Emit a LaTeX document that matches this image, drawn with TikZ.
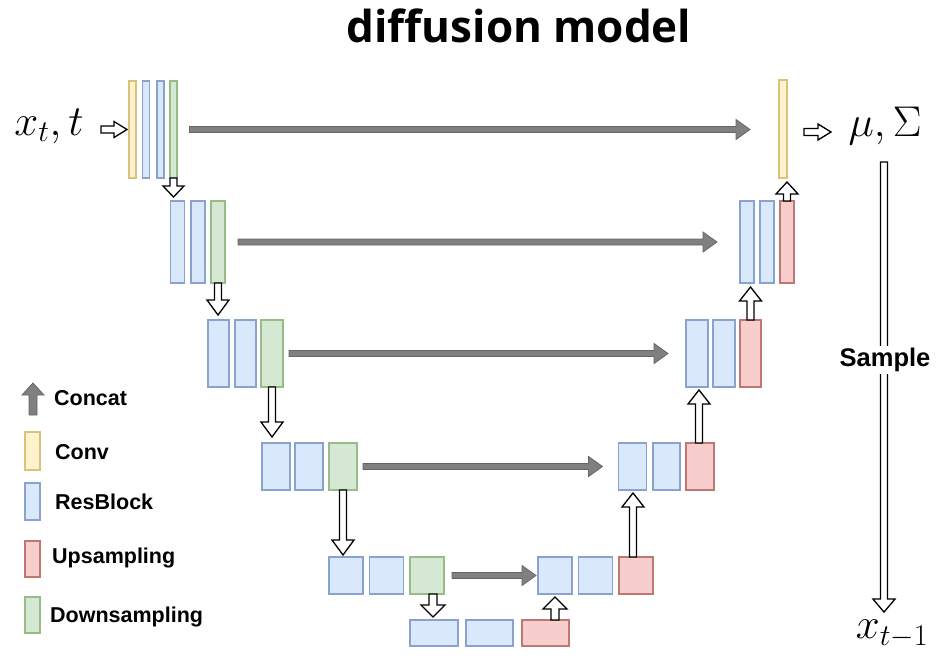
\documentclass[tikz,border=0pt]{standalone}
\usepackage{fix-cm}
\usepackage{fontspec}
\newfontfamily\titlefont{Open Sans}
\newfontfamily\labelfont{Liberation Sans}
\usetikzlibrary{calc}

\definecolor{convF}{HTML}{FFF2CC}\definecolor{convD}{HTML}{D9C27A}
\definecolor{resF}{HTML}{DAE8FC}\definecolor{resD}{HTML}{8AA3CC}
\definecolor{upF}{HTML}{F8CECC}\definecolor{upD}{HTML}{BE7773}
\definecolor{dnF}{HTML}{D5E8D4}\definecolor{dnD}{HTML}{98BC86}
\definecolor{concatF}{HTML}{808080}\definecolor{concatD}{HTML}{666666}

\tikzset{
  blk/.style={draw=#1D, fill=#1F, line width=1.2pt, inner sep=0pt, outer sep=0pt},
  hollow/.style={draw=black, fill=white, line width=1.3pt, line join=miter},
  concat/.style={draw=concatD, fill=concatF, line width=0.8pt, line join=miter},
  legendtxt/.style={font=\labelfont\bfseries\fontsize{21.5}{25}\selectfont, anchor=west, inner sep=0pt},
  mathtxt/.style={font=\fontsize{43}{50}\selectfont, inner sep=0pt},
}

% block: kind, name, centre x, centre y, width, height
\newcommand\blk[6]{\node[blk=#1, minimum width=#5pt, minimum height=#6pt] (#2) at (#3,#4) {};}

% block arrow: style, from, tip, half shaft width, head length, half head width
\newcommand\fatarrow[6]{%
  \coordinate (fa-h) at ($(#3)!#5!(#2)$);
  \draw[#1] ($(#2)!#4!90:(#3)$) -- ($(fa-h)!#4!90:(#3)$) -- ($(fa-h)!#6!90:(#3)$)
    -- (#3) -- ($(fa-h)!#6!-90:(#3)$) -- ($(fa-h)!#4!-90:(#3)$)
    -- ($(#2)!#4!-90:(#3)$) -- cycle;}

\begin{document}
\begin{tikzpicture}[x=1pt,y=-1pt]
\useasboundingbox (0,0) rectangle (937,657);

% title
\node[font=\titlefont\bfseries\fontsize{44}{52}\selectfont] (title) at (519,26) {diffusion model};

% ---- encoder ----
\blk{conv}{c0}{132.5}{129.5}{7}{97}
\blk{res}{e0a}{146}{129.5}{7}{97}
\blk{res}{e0b}{160.5}{129.5}{7}{97}
\blk{dn}{g0}{173.5}{129.5}{7}{97}

\blk{res}{e1a}{177.5}{242}{14}{82}
\blk{res}{e1b}{198}{242}{14}{82}
\blk{dn}{g1}{218}{242}{14}{82}

\blk{res}{e2a}{218.5}{353.5}{21}{67}
\blk{res}{e2b}{245.5}{353.5}{21}{67}
\blk{dn}{g2}{272}{353.5}{22}{67}

\blk{res}{e3a}{276}{466.5}{28}{47}
\blk{res}{e3b}{309}{466.5}{28}{47}
\blk{dn}{g3}{343}{466.5}{28}{47}

\blk{res}{e4a}{346}{575.5}{34}{37}
\blk{res}{e4b}{386.5}{575.5}{34}{37}
\blk{dn}{g4}{427}{575.5}{34}{37}

% ---- bottleneck ----
\blk{res}{m0}{434}{633}{48}{26}
\blk{res}{m1}{489.5}{633}{47}{26}
\blk{up}{m2}{545.5}{633}{47}{26}

% ---- decoder ----
\blk{res}{d4a}{555}{575.5}{34}{37}
\blk{res}{d4b}{595.5}{575.5}{34}{37}
\blk{up}{u4}{636}{575.5}{34}{37}

\blk{res}{d3a}{632.5}{466.5}{28}{47}
\blk{res}{d3b}{666.5}{466.5}{27}{47}
\blk{up}{u3}{700}{466.5}{28}{47}

\blk{res}{d2a}{697}{353.5}{22}{67}
\blk{res}{d2b}{724}{353.5}{22}{67}
\blk{up}{u2}{750.5}{353.5}{21}{67}

\blk{res}{d1a}{747}{242}{14}{82}
\blk{res}{d1b}{767}{242}{14}{82}
\blk{up}{u1}{787}{242}{14}{82}

\blk{conv}{c1}{783}{129}{8}{98}

% ---- input / output text ----
\node[mathtxt] (xin) at (49,126) {$x_t,t$};
\node[mathtxt] (muout) at (885,126) {$\mu,\Sigma$};
\node[mathtxt] (xout) at (892,634) {$x_{t-1}$};

% ---- skip connections (concat) ----
\fatarrow{concat}{[xshift=12.5pt]g0.east}{[xshift=-29pt]c1.west |- g0.east}{3pt}{14pt}{10pt}
\fatarrow{concat}{[xshift=13pt]g1.east}{[xshift=-23pt]d1a.west}{3pt}{14pt}{10pt}
\fatarrow{concat}{[xshift=6pt]g2.east}{[xshift=-18pt]d2a.west}{3pt}{14pt}{10pt}
\fatarrow{concat}{[xshift=6pt]g3.east}{[xshift=-16pt]d3a.west}{3pt}{14pt}{10pt}
\fatarrow{concat}{[xshift=8pt]g4.east}{[xshift=-2pt]d4a.west}{3pt}{14pt}{10pt}

% ---- data flow arrows ----
\coordinate (ia) at ([xshift=-28pt]c0.west);
\coordinate (ib) at ([xshift=-2pt]c0.west);
\fatarrow{hollow}{ia}{ib}{3.5pt}{13pt}{8pt}
\coordinate (oa) at ([xshift=17pt,yshift=-3pt]c1.east);
\coordinate (ob) at ([xshift=44pt,yshift=-3pt]c1.east);
\fatarrow{hollow}{oa}{ob}{3.5pt}{13pt}{8pt}

\coordinate (s0) at (g0.south);
\coordinate (t0) at ([yshift=4pt]g0.south |- e1a.north);
\fatarrow{hollow}{s0}{t0}{3.5pt}{11pt}{10.5pt}
\coordinate (s1) at (g1.south);
\coordinate (t1) at ([yshift=5pt]g1.south |- e2a.north);
\fatarrow{hollow}{s1}{t1}{3.5pt}{15pt}{11pt}
\coordinate (s2) at (g2.south);
\coordinate (t2) at ([yshift=6pt]g2.south |- e3a.north);
\fatarrow{hollow}{s2}{t2}{3.5pt}{15pt}{11pt}
\coordinate (s3) at (g3.south);
\coordinate (t3) at ([yshift=2pt]g3.south |- e4a.north);
\fatarrow{hollow}{s3}{t3}{3.5pt}{15pt}{11pt}
\coordinate (s4) at ([xshift=6pt]g4.south);
\coordinate (t4) at ([yshift=3pt]s4 |- m0.north);
\fatarrow{hollow}{s4}{t4}{4pt}{12pt}{12pt}

\coordinate (s5) at (d4a.south |- m2.north);
\coordinate (t5) at ([yshift=-3pt]d4a.south);
\fatarrow{hollow}{s5}{t5}{4pt}{12pt}{12pt}
\coordinate (s6) at ([xshift=-3pt]u4.north);
\coordinate (t6) at ([yshift=-3pt]s6 |- d3a.south);
\fatarrow{hollow}{s6}{t6}{3.5pt}{14pt}{11pt}
\coordinate (s7) at ([xshift=-1pt]u3.north);
\coordinate (t7) at ([yshift=-3pt]s7 |- d2a.south);
\fatarrow{hollow}{s7}{t7}{3.5pt}{14pt}{11pt}
\coordinate (s8) at (u2.north);
\coordinate (t8) at ([yshift=-4pt]s8 |- u1.south);
\fatarrow{hollow}{s8}{t8}{3.5pt}{14pt}{11pt}
\coordinate (s9) at (u1.north);
\coordinate (t9) at ([yshift=-4pt]s9 |- c1.south);
\fatarrow{hollow}{s9}{t9}{3.5pt}{12pt}{11pt}

% ---- sampling step ----
\coordinate (sa) at (884,162);
\coordinate (sb) at ([yshift=8pt]xout.north -| 884,0);
\fatarrow{hollow}{sa}{sb}{3.5pt}{13pt}{11pt}
\node[fill=white, inner sep=2pt, font=\labelfont\bfseries\fontsize{25.5}{30}\selectfont] (sample) at (885,360) {Sample};

% ---- legend ----
\coordinate (la) at (33,415);
\coordinate (lb) at (33,383);
\fatarrow{concat}{la}{lb}{4pt}{12pt}{11pt}
\node[legendtxt] (lconcat) at (54,398) {Concat};
\node[blk=conv, minimum width=15pt, minimum height=38pt] (lconv) at (32.5,451) {};
\node[legendtxt] (tconv) at (55,452) {Conv};
\node[blk=res, minimum width=15pt, minimum height=37pt] (lres) at (32.5,501.5) {};
\node[legendtxt] (tres) at (55,502) {ResBlock};
\node[blk=up, minimum width=15pt, minimum height=36pt] (lup) at (32.5,559) {};
\node[legendtxt] (tup) at (52,558) {Upsampling};
\node[blk=dn, minimum width=15pt, minimum height=36pt] (ldn) at (32.5,615) {};
\node[legendtxt] (tdn) at (50,617) {Downsampling};
\end{tikzpicture}
\end{document}
